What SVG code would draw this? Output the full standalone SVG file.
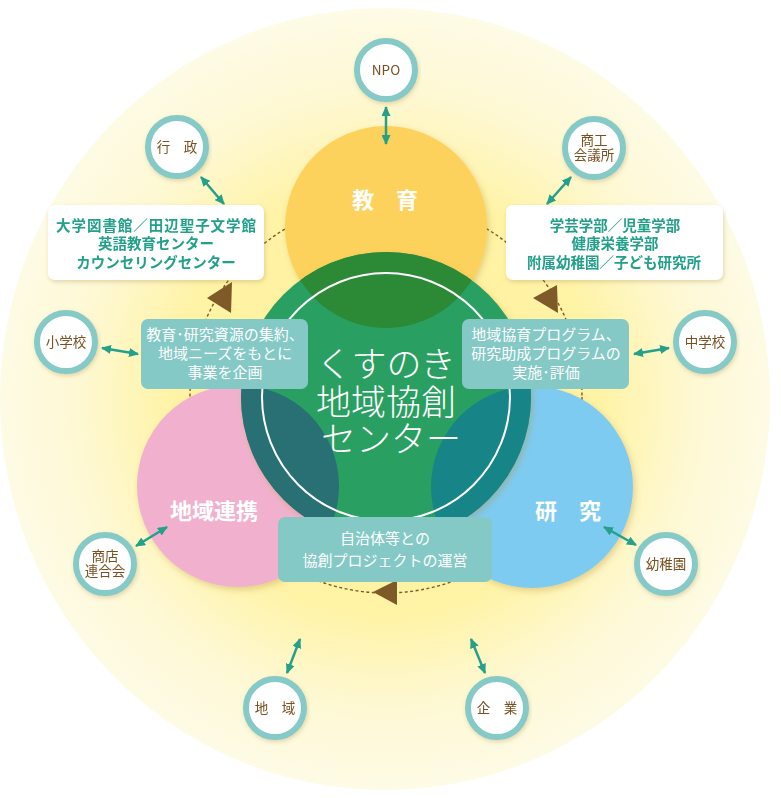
<svg xmlns="http://www.w3.org/2000/svg" width="781" height="798" viewBox="0 0 781 798">
<defs>
<radialGradient id="glow" cx="386" cy="400" r="390" gradientUnits="userSpaceOnUse">
<stop offset="0" stop-color="#fff09a"/>
<stop offset="0.55" stop-color="#fff3a6"/>
<stop offset="0.78" stop-color="#fef8d2"/>
<stop offset="1" stop-color="#fefbe6"/>
</radialGradient>
<clipPath id="greenClip"><circle cx="386" cy="397" r="145"/></clipPath>
<filter id="sh" x="-20%" y="-20%" width="140%" height="140%">
<feDropShadow dx="2" dy="3" stdDeviation="3" flood-color="#b08a30" flood-opacity="0.35"/>
</filter>
<filter id="bsh" x="-10%" y="-20%" width="120%" height="140%">
<feDropShadow dx="1" dy="2" stdDeviation="2" flood-color="#a08040" flood-opacity="0.3"/>
</filter>
<marker id="ah" viewBox="0 0 10 9" markerWidth="10" markerHeight="9" refX="9" refY="4.5" orient="auto-start-reverse" markerUnits="userSpaceOnUse">
<path d="M0,0 L10,4.5 L0,9 z" fill="#24a08b"/>
</marker>
<style>
.jp{font-family:"Noto Sans CJK JP","Noto Sans CJK SC",sans-serif}
.small{fill:#fff;stroke:#85cac6;stroke-width:6}
.st{font-size:13.5px;fill:#7a5020;text-anchor:middle}
.wb{fill:#fff}
.wt{font-size:14.5px;font-weight:bold;fill:#22a08a;text-anchor:middle}
.tb{fill:#84c9c6}
.tt{font-size:15px;fill:#fff;text-anchor:middle}
.big{font-size:22px;font-weight:bold;fill:#fff;text-anchor:middle}
.ct{font-size:35px;font-weight:300;fill:#fff;text-anchor:middle}
.arr{stroke:#24a08b;stroke-width:2.5;fill:none;marker-start:url(#ah);marker-end:url(#ah)}
.tri{fill:#7d5a28}
</style>
</defs>
<ellipse cx="385" cy="399" rx="385" ry="391" fill="url(#glow)"/>
<circle cx="386" cy="397" r="196" fill="none" stroke="#7d5a28" stroke-width="1.4" stroke-dasharray="3 2.5"/>
<polygon class="tri" points="207,298 232,282 231,313"/>
<polygon class="tri" points="533,298 557,285 558,313"/>
<polygon class="tri" points="373,592 397,580 397,605"/>

<g id="kyoiku" filter="url(#sh)"><circle cx="386" cy="227" r="101" fill="#fcd25c"/></g>
<g id="chiiki-renkei" filter="url(#sh)"><circle cx="238" cy="486" r="101" fill="#f1b1ce"/></g>
<g id="kenkyu" filter="url(#sh)"><circle cx="532" cy="487" r="101" fill="#7ecbf1"/></g>
<g id="center">
<circle cx="386" cy="397" r="145" fill="#2a9f62" filter="url(#sh)"/>
<g clip-path="url(#greenClip)">
<circle cx="386" cy="227" r="101" fill="#2c8936"/>
<circle cx="238" cy="486" r="101" fill="#287073"/>
<circle cx="532" cy="487" r="101" fill="#178487"/>
</g>
<circle cx="386" cy="397" r="124" fill="none" stroke="#fff" stroke-width="2"/>
<text class="jp ct"><tspan x="386" y="377">くすのき</tspan><tspan x="386" y="415">地域協創</tspan><tspan x="391" y="452">センター</tspan></text>
</g>
<text class="jp big" x="385" y="208">教　育</text>
<text class="jp big" x="214" y="519" font-size="23">地域連携</text>
<text class="jp big" x="568" y="519">研　究</text>

<g id="box-left-white" filter="url(#bsh)">
<rect class="wb" x="48" y="205" width="216" height="75" rx="7"/>
<text class="jp wt"><tspan x="156" y="231" textLength="200" lengthAdjust="spacing">大学図書館／田辺聖子文学館</tspan><tspan x="156" y="249">英語教育センター</tspan><tspan x="156" y="268">カウンセリングセンター</tspan></text>
</g>
<g id="box-right-white" filter="url(#bsh)">
<rect class="wb" x="506" y="205" width="217" height="75" rx="7"/>
<text class="jp wt"><tspan x="615" y="231">学芸学部／児童学部</tspan><tspan x="615" y="249">健康栄養学部</tspan><tspan x="614" y="268">附属幼稚園／子ども研究所</tspan></text>
</g>
<g id="box-left-teal">
<rect class="tb" x="141" y="319" width="167" height="70" rx="7"/>
<text class="jp tt"><tspan x="225" y="340">教育･研究資源の集約、</tspan><tspan x="225" y="359">地域ニーズをもとに</tspan><tspan x="225" y="378">事業を企画</tspan></text>
</g>
<g id="box-right-teal">
<rect class="tb" x="462" y="319" width="167" height="70" rx="7"/>
<text class="jp tt"><tspan x="546" y="340">地域協育プログラム、</tspan><tspan x="546" y="359">研究助成プログラムの</tspan><tspan x="546" y="378">実施･評価</tspan></text>
</g>
<g id="box-bottom-teal">
<rect class="tb" x="278" y="517" width="214" height="65" rx="7"/>
<text class="jp tt" font-size="16"><tspan x="385" y="544">自治体等との</tspan><tspan x="385" y="566">協創プロジェクトの運営</tspan></text>
</g>

<g id="npo" filter="url(#bsh)"><circle class="small" cx="386" cy="70" r="29"/><text class="jp st" x="386" y="75" font-size="12">NPO</text></g>
<g id="gyosei" filter="url(#bsh)"><circle class="small" cx="177" cy="147" r="29"/><text class="jp st" x="177" y="152">行　政</text></g>
<g id="shoko" filter="url(#bsh)"><circle class="small" cx="594" cy="148" r="29"/><text class="jp st"><tspan x="594" y="145">商工</tspan><tspan x="594" y="160">会議所</tspan></text></g>
<g id="shogakko" filter="url(#bsh)"><circle class="small" cx="66" cy="342" r="29"/><text class="jp st" x="66" y="347">小学校</text></g>
<g id="chugakko" filter="url(#bsh)"><circle class="small" cx="705" cy="342" r="29"/><text class="jp st" x="705" y="347">中学校</text></g>
<g id="shoten" filter="url(#bsh)"><circle class="small" cx="105" cy="564" r="29"/><text class="jp st"><tspan x="105" y="561">商店</tspan><tspan x="105" y="576">連合会</tspan></text></g>
<g id="yochien" filter="url(#bsh)"><circle class="small" cx="666" cy="564" r="29"/><text class="jp st" x="666" y="569">幼稚園</text></g>
<g id="chiiki" filter="url(#bsh)"><circle class="small" cx="275" cy="708" r="29"/><text class="jp st" x="275" y="713">地　域</text></g>
<g id="kigyo" filter="url(#bsh)"><circle class="small" cx="497" cy="708" r="29"/><text class="jp st" x="497" y="713">企　業</text></g>

<g id="connectors">
<line class="arr" x1="386" y1="107" x2="386" y2="144"/>
<line class="arr" x1="201" y1="177" x2="224" y2="204"/>
<line class="arr" x1="571" y1="177" x2="547" y2="204"/>
<line class="arr" x1="102" y1="348" x2="138" y2="354"/>
<line class="arr" x1="634" y1="354" x2="669" y2="348"/>
<line class="arr" x1="136" y1="546" x2="167" y2="527"/>
<line class="arr" x1="604" y1="527" x2="636" y2="545"/>
<line class="arr" x1="300" y1="639" x2="287" y2="673"/>
<line class="arr" x1="471" y1="639" x2="485" y2="673"/>
</g>
</svg>
